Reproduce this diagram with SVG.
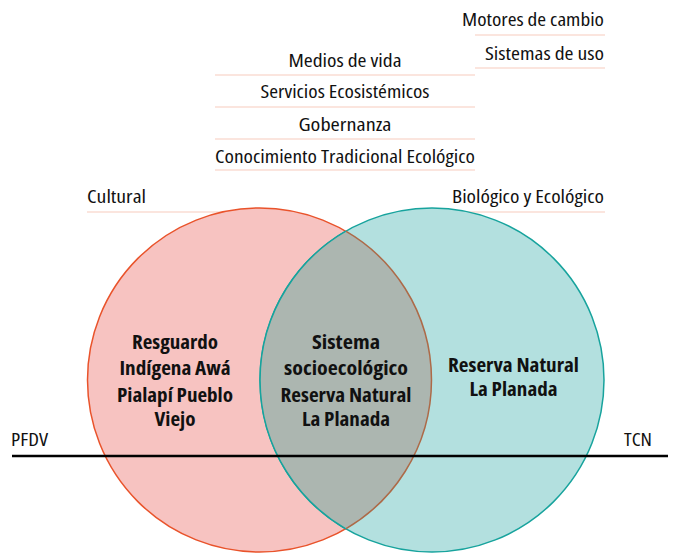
<svg xmlns="http://www.w3.org/2000/svg" width="680" height="553" viewBox="0 0 680 553">
<style>
.lbl{font-family:"Open Sans","Noto Sans",sans-serif;font-stretch:condensed;font-size:18px;fill:#111;}
.b{font-family:"Open Sans","Noto Sans",sans-serif;font-stretch:condensed;font-size:19px;font-weight:bold;fill:#111;text-anchor:middle;}
.ul{stroke:#f8cbbd;stroke-width:1.2;fill:none;}
.mid{text-anchor:middle;}
.end{text-anchor:end;}
</style>
<rect width="680" height="553" fill="#fff"/>
<g id="top-labels">
  <text class="lbl end" x="604" y="26" textLength="142" lengthAdjust="spacingAndGlyphs">Motores de cambio</text>
  <line class="ul" x1="475" y1="35" x2="605" y2="35"/>
  <text class="lbl end" x="604" y="60" textLength="119" lengthAdjust="spacingAndGlyphs">Sistemas de uso</text>
  <line class="ul" x1="475" y1="68" x2="605" y2="68"/>
  <text class="lbl mid" x="345" y="67" textLength="113" lengthAdjust="spacingAndGlyphs">Medios de vida</text>
  <line class="ul" x1="215" y1="75" x2="475" y2="75"/>
  <text class="lbl mid" x="345" y="98" textLength="169" lengthAdjust="spacingAndGlyphs">Servicios Ecosistémicos</text>
  <line class="ul" x1="215" y1="107" x2="475" y2="107"/>
  <text class="lbl mid" x="345" y="131" textLength="93" lengthAdjust="spacingAndGlyphs">Gobernanza</text>
  <line class="ul" x1="215" y1="139" x2="475" y2="139"/>
  <text class="lbl mid" x="345" y="163" textLength="260" lengthAdjust="spacingAndGlyphs">Conocimiento Tradicional Ecológico</text>
  <line class="ul" x1="215" y1="170" x2="475" y2="170"/>
  <text class="lbl" x="87" y="203" textLength="59" lengthAdjust="spacingAndGlyphs">Cultural</text>
  <line class="ul" x1="87" y1="212" x2="240" y2="212"/>
  <text class="lbl end" x="604" y="203" textLength="152" lengthAdjust="spacingAndGlyphs">Biológico y Ecológico</text>
  <line class="ul" x1="450" y1="212" x2="605" y2="212"/>
</g>
<g id="node-cultural">
  <circle cx="259.5" cy="380" r="172" fill="#f7c3c1" stroke="#e9532b" stroke-width="1.5"/>
</g>
<g id="node-biologico">
  <circle cx="432" cy="380" r="172" fill="#b3e0df" stroke="#17a39d" stroke-width="1.5"/>
</g>
<g id="node-interseccion">
  <path d="M345.75 231.2 A172 172 0 0 1 345.75 528.8 A172 172 0 0 1 345.75 231.2 Z" fill="#acb6b0"/>
  <path d="M345.75 231.2 A172 172 0 0 1 345.75 528.8" fill="none" stroke="#ad6a48" stroke-width="1.5"/>
  <path d="M345.75 528.8 A172 172 0 0 1 345.75 231.2" fill="none" stroke="#17a39d" stroke-width="1.5"/>
</g>
<g id="node-text-left">
  <text class="b" x="175" y="349" textLength="86" lengthAdjust="spacingAndGlyphs">Resguardo</text>
  <text class="b" x="175" y="375" textLength="111" lengthAdjust="spacingAndGlyphs">Indígena Awá</text>
  <text class="b" x="175" y="402" textLength="116" lengthAdjust="spacingAndGlyphs">Pialapí Pueblo</text>
  <text class="b" x="175" y="426" textLength="41" lengthAdjust="spacingAndGlyphs">Viejo</text>
</g>
<g id="node-text-mid">
  <text class="b" x="346" y="349" textLength="68" lengthAdjust="spacingAndGlyphs">Sistema</text>
  <text class="b" x="346" y="375" textLength="124" lengthAdjust="spacingAndGlyphs">socioecológico</text>
  <text class="b" x="346" y="402" textLength="131" lengthAdjust="spacingAndGlyphs">Reserva Natural</text>
  <text class="b" x="346" y="426" textLength="88" lengthAdjust="spacingAndGlyphs">La Planada</text>
</g>
<g id="node-text-right">
  <text class="b" x="513.5" y="372" textLength="131" lengthAdjust="spacingAndGlyphs">Reserva Natural</text>
  <text class="b" x="513.5" y="396" textLength="88" lengthAdjust="spacingAndGlyphs">La Planada</text>
</g>
<g id="connectors">
  <line x1="12" y1="456" x2="668" y2="456" stroke="#000" stroke-width="2.5"/>
  <text class="lbl" x="11" y="446" textLength="37" lengthAdjust="spacingAndGlyphs">PFDV</text>
  <text class="lbl end" x="652" y="446" textLength="28" lengthAdjust="spacingAndGlyphs">TCN</text>
</g>
</svg>
